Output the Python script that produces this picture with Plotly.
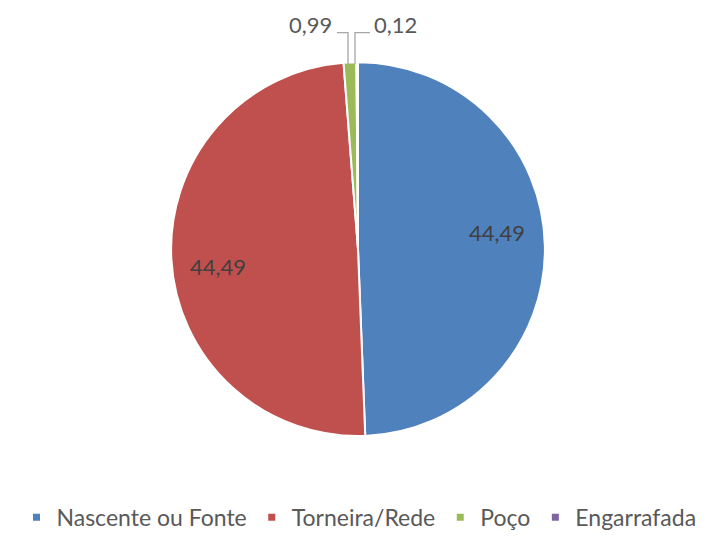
import plotly.graph_objects as go

# Water source shares
categories = ["Nascente ou Fonte", "Torneira/Rede", "Poço", "Engarrafada"]
values = [44.49, 44.49, 0.99, 0.12]
colors = ["#4F81BD", "#C0504D", "#9BBB59", "#8064A2"]

W, H = 718, 539
FONT = "Lato"


def px(x):
    return x / W


def py(y):
    return 1 - y / H


def fmt(v):
    return f"{v:.2f}".replace(".", ",")


fig = go.Figure()

fig.add_trace(go.Pie(
    labels=categories,
    values=values,
    marker=dict(colors=colors, line=dict(color="white", width=2)),
    sort=False,
    direction="clockwise",
    rotation=0,
    textinfo="none",
    hoverinfo="label+value",
    showlegend=False,
    domain=dict(x=[px(169), px(547)], y=[py(441), py(63)]),
))

# Legend entries with small square keys
for name, c in zip(categories, colors):
    fig.add_trace(go.Scatter(
        x=[None], y=[None], mode="markers", name=name,
        marker=dict(symbol="square", size=7, color=c),
    ))

annotations = [
    dict(x=px(497), y=py(235), text=fmt(values[0]), font=dict(color="#404040")),
    dict(x=px(218), y=py(269), text=fmt(values[1]), font=dict(color="#404040")),
    dict(x=px(334), y=py(25), text=fmt(values[2]), xanchor="right",
         font=dict(color="#595959")),
    dict(x=px(372), y=py(25), text=fmt(values[3]), xanchor="left",
         font=dict(color="#595959")),
]
for a in annotations:
    a.setdefault("xanchor", "center")
    a.update(xref="paper", yref="paper", showarrow=False, yanchor="middle")
    a["font"].update(family=FONT, size=22)

line_style = dict(color="#A6A6A6", width=1.3)
shapes = [
    dict(type="path", path=f"M {px(337)},{py(33)} L {px(348)},{py(33)} L {px(348)},{py(65)}",
         xref="paper", yref="paper", line=line_style),
    dict(type="path", path=f"M {px(370)},{py(33)} L {px(355)},{py(33)} L {px(355)},{py(65)}",
         xref="paper", yref="paper", line=line_style),
]

fig.update_layout(
    width=W, height=H,
    margin=dict(l=0, r=0, t=0, b=0),
    paper_bgcolor="white", plot_bgcolor="white",
    xaxis=dict(visible=False), yaxis=dict(visible=False),
    annotations=annotations,
    shapes=shapes,
    legend=dict(
        orientation="h", x=0.5, xanchor="center", y=py(523), yanchor="middle",
        font=dict(family=FONT, size=23, color="#595959"),
        itemwidth=30,
    ),
    font=dict(family=FONT),
)

fig.write_html("out.html")
